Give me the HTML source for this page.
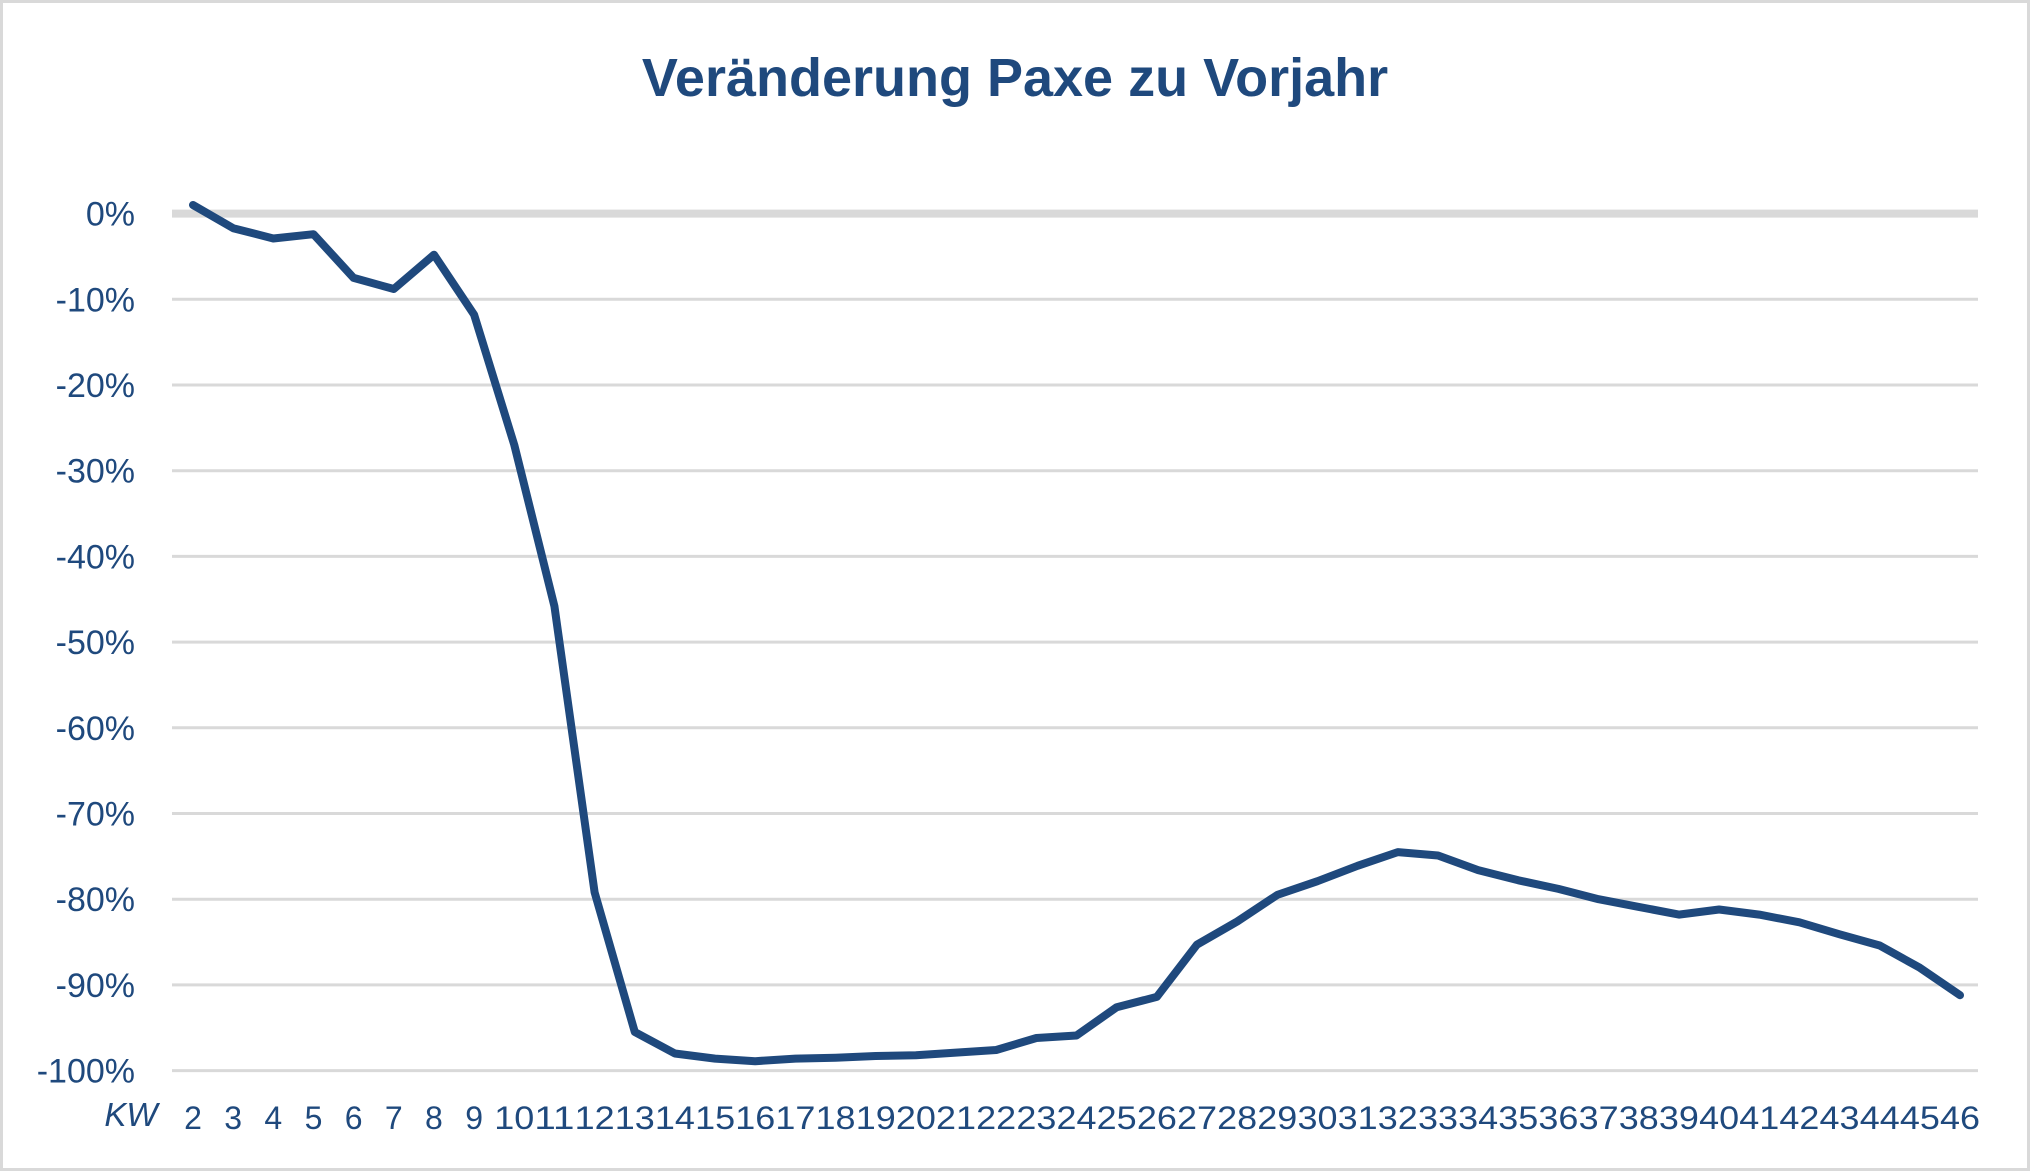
<!DOCTYPE html>
<html><head><meta charset="utf-8"><style>
html,body{margin:0;padding:0;background:#fff}
svg{display:block}
text{font-family:"Liberation Sans",sans-serif;fill:#1f497d}
</style></head><body>
<svg width="2030" height="1171" viewBox="0 0 2030 1171" xmlns="http://www.w3.org/2000/svg">
<rect x="1.5" y="1.5" width="2027" height="1168" fill="#fff" stroke="#d9d9d9" stroke-width="3"/>
<text x="1015" y="96" font-size="54" font-weight="bold" text-anchor="middle">Veränderung Paxe zu Vorjahr</text>
<g id="grid" stroke="#d9d9d9" stroke-width="3"></g>
<g id="ylab" font-size="34" text-anchor="end"></g>
<g id="xlab" font-size="32" text-anchor="middle"></g>
<text x="131" y="1126" font-size="33" font-style="italic" text-anchor="middle">KW</text>
<polyline id="line" fill="none" stroke="#1f497d" stroke-width="8" stroke-linejoin="round" stroke-linecap="round"/>
</svg>
<script>
var ns="http://www.w3.org/2000/svg";
function Y(v){return 213.6-v*8.57;}
function X(w){return 193+(w-2)*40.16;}
var g=document.getElementById('grid'),yl=document.getElementById('ylab'),xl=document.getElementById('xlab');
for(var i=0;i<=10;i++){var y=Y(-i*10);var l=document.createElementNS(ns,'line');l.setAttribute('x1',172);l.setAttribute('x2',1978);l.setAttribute('y1',y);l.setAttribute('y2',y);if(i==0){l.setAttribute('stroke-width','8');}g.appendChild(l);
var t=document.createElementNS(ns,'text');t.setAttribute('x',135);t.setAttribute('y',y+12);t.textContent=(i==0?'':'-')+(i*10)+'%';yl.appendChild(t);}
var d=[1,-1.7,-2.9,-2.4,-7.5,-8.8,-4.8,-11.8,-27,-45.8,-79.2,-95.5,-98,-98.6,-98.9,-98.6,-98.5,-98.3,-98.2,-97.9,-97.6,-96.2,-95.9,-92.6,-91.4,-85.3,-82.6,-79.5,-77.9,-76.1,-74.5,-74.9,-76.6,-77.8,-78.8,-80,-80.9,-81.8,-81.2,-81.8,-82.7,-84.1,-85.4,-88,-91.2];
var p=[];for(var k=0;k<d.length;k++){var w=k+2;p.push(X(w).toFixed(1)+','+Y(d[k]).toFixed(1));
var t=document.createElementNS(ns,'text');t.setAttribute('x',X(w));t.setAttribute('y',1129);t.textContent=w;if(w>=10){t.setAttribute('textLength','40');t.setAttribute('lengthAdjust','spacingAndGlyphs');}xl.appendChild(t);}
document.getElementById('line').setAttribute('points',p.join(' '));
</script>
</body></html>
